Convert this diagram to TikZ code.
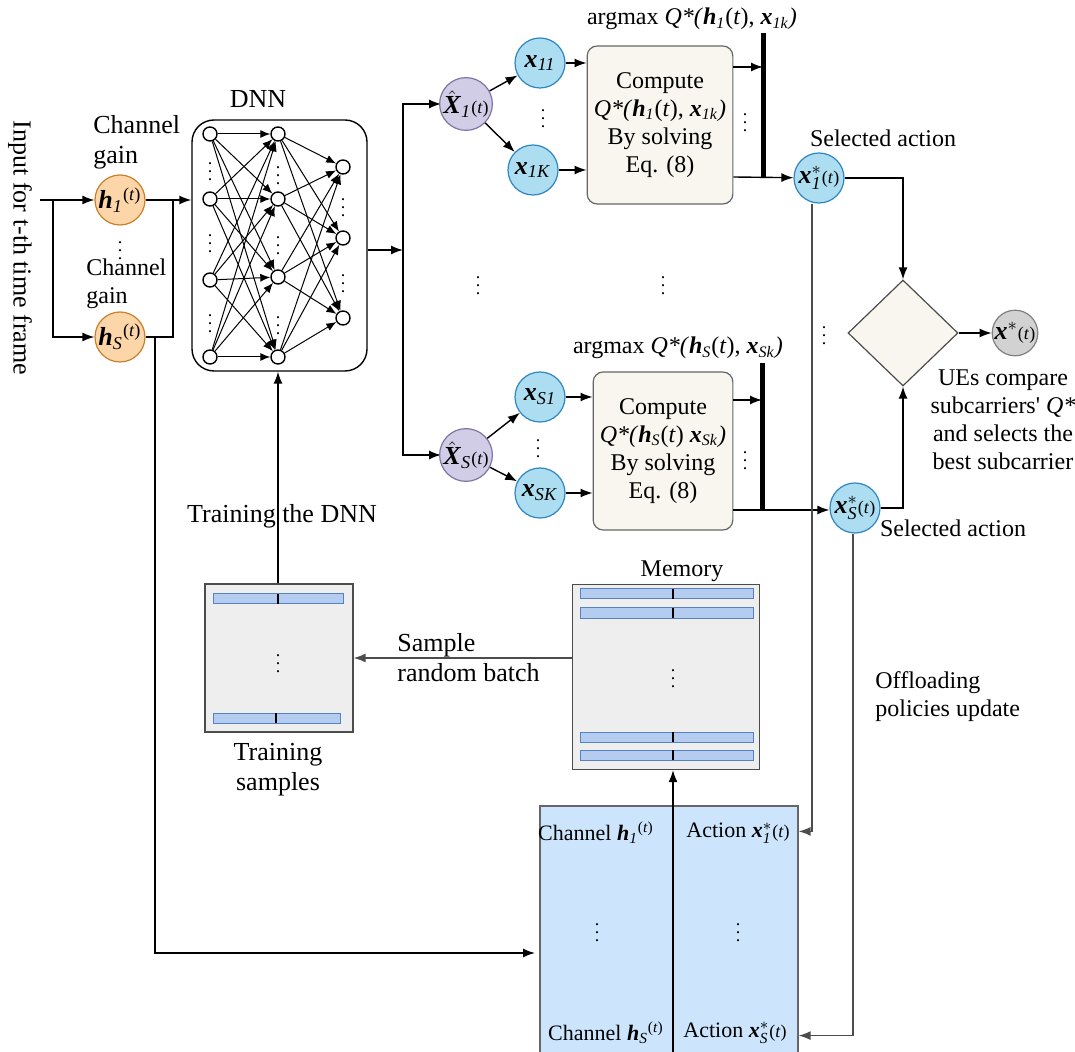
\documentclass[tikz,border=0pt]{standalone}
\usepackage{fontspec}
\setmainfont{Liberation Serif}
\usepackage{xcolor}
\usepackage{tikz}
\usetikzlibrary{shapes.geometric,arrows.meta}

\definecolor{bluefill}{RGB}{173,221,240}
\definecolor{blueline}{RGB}{46,134,193}
\definecolor{purfill}{RGB}{210,205,230}
\definecolor{purline}{RGB}{130,115,165}
\definecolor{orfill}{RGB}{252,213,168}
\definecolor{orline}{RGB}{200,128,42}
\definecolor{beige}{RGB}{248,246,238}
\definecolor{memfill}{RGB}{238,238,238}
\definecolor{slotfill}{RGB}{180,204,240}
\definecolor{slotline}{RGB}{85,130,195}
\definecolor{replayfill}{RGB}{204,229,252}
\definecolor{outfill}{RGB}{210,210,210}

\newcommand{\bi}[1]{\textbf{\textit{#1}}}
\newcommand{\tsm}{{\fontsize{9}{9}\selectfont(\textit{t})}}

\tikzset{
  circ/.style={circle, minimum size=25pt, inner sep=0pt, line width=0.6pt, font=\fontsize{13}{15}\selectfont},
  actnode/.style={circ, draw=blueline, fill=bluefill},
  hnode/.style={circ, draw=orline, fill=orfill},
  xhat/.style={circ, draw=purline, fill=purfill},
  neuron/.style={circle, draw, fill=white, minimum size=7pt, inner sep=0pt},
  compbox/.style={draw=black!60, fill=beige, rounded corners=5pt, line width=0.6pt, align=center},
  membox/.style={draw=black!70, fill=memfill, line width=0.6pt},
  slot/.style={draw=slotline, fill=slotfill, line width=0.5pt},
  vdot/.style={font=\fontsize{9}{9}\selectfont, inner sep=0pt},
}

\begin{document}
\begin{tikzpicture}[x=0.5pt, y=-0.5pt, >={Latex[length=6pt,width=4.5pt]},
  line width=0.7pt, font=\fontsize{12}{14}\selectfont]
\useasboundingbox (0,0) rectangle (1075,1052);

% Input
\node[rotate=-90, font=\fontsize{13}{15}\selectfont] (inlabel) at (20,248) {Input for t-th time frame};
\node[hnode] (h1) at (120,200) {\bi{h}\textsubscript{\textit{1}}\textsuperscript{(\textit{t})}};
\node[hnode] (hS) at (120,337) {\bi{h}\textsubscript{\textit{S}}\textsuperscript{(\textit{t})}};
\node[anchor=west, align=left, font=\fontsize{13}{15}\selectfont] (g1) at (86,142) {Channel\\gain};
\node[anchor=west, align=left, font=\fontsize{12}{14}\selectfont] (g2) at (79,284) {Channel\\gain};
\node[vdot] (d0) at (120,245) {$\vdots$};
\coordinate (in) at (40,200);
\coordinate (split) at (53,200);
\coordinate (join) at (173,200);
\coordinate (tap) at (155,953);
\draw[->] (in) -- (h1);
\draw[->] (split) |- (hS);

% DNN
\node[draw, rounded corners=11pt, minimum width=87.5pt, minimum height=125.5pt] (dnn) at (279.5,245.5) {};
\node[font=\fontsize{13}{15}\selectfont] (dnnlabel) at (258,99) {DNN};
\draw[->] (h1.east) -- (h1.east -| dnn.west);
\draw (hS.east) -| (join);
\draw[->] (hS.east) -| (tap) -- (535,953);

\foreach \i/\y in {1/134,2/199,3/280,4/357} \node[neuron] (a\i) at (210,\y) {};
\foreach \i/\y in {1/134,2/199,3/277,4/357} \node[neuron] (b\i) at (278,\y) {};
\foreach \i/\y in {1/167,2/238,3/318} \node[neuron] (c\i) at (343,\y) {};
\foreach \i in {1,...,4} \foreach \j in {1,...,4}
  \draw[line width=0.5pt, -{Latex[length=5pt,width=4pt]}] (a\i) -- (b\j);
\foreach \i in {1,...,4} \foreach \j in {1,...,3}
  \draw[line width=0.5pt, -{Latex[length=5pt,width=4pt]}] (b\i) -- (c\j);
\foreach \x/\y in {210/166,210/238,210/318,278/170,278/240,278/320,343/202,343/278}
  \node[vdot] at (\x,\y) {$\vdots$};

% Bus to the subcarriers
\coordinate (bus) at (403,250);
\draw[->] (dnn.east |- bus) -- (bus);
\draw[->] (bus) |- (441,104);
\draw[->] (bus) |- (441,455);
\node[xhat] (X1) at (466,104) {$\hat{\mbox{\bi{X}}}_{\mathit{1}}$\tsm};
\node[xhat] (XS) at (466,455) {$\hat{\mbox{\bi{X}}}_{\mathit{S}}$\tsm};

% Subcarrier 1
\node[actnode] (x11) at (540,63) {\bi{x}\textsubscript{\textit{11}}};
\node[actnode] (x1K) at (533,170) {\bi{x}\textsubscript{\textit{1K}}};
\node[vdot] at (543,113) {$\vdots$};
\draw[->] (X1) -- (x11);
\draw[->] (X1) -- (x1K);
\node[compbox, minimum width=67pt, minimum height=79pt] (c1) at (660,125)
  {Compute\\\textit{Q*(}\bi{h}\textsubscript{\textit{1}}(\textit{t}), \bi{x}\textsubscript{\textit{1k}}\textit{)}\\By solving\\Eq. (8)};
\draw[->] (x11) -- (x11 -| c1.west);
\draw[->] (x1K) -- (x1K -| c1.west);
\node (am1) at (692,19) {argmax \textit{Q*(}\bi{h}\textsubscript{\textit{1}}(\textit{t}), \bi{x}\textsubscript{\textit{1k}}\textit{)}};
\coordinate (bar1a) at (763,33);
\coordinate (bar1b) at (763,177);
\draw[line width=2.5pt] (bar1a) -- (bar1b);
\node[vdot] at (745,117) {$\vdots$};
\node[actnode] (s1) at (819,178) {$\bi{x}^{*}_{\mathit{1}}$\tsm};
\node (sel1) at (883,138) {Selected action};
\draw[->] (c1.east |- 0,67) -- (bar1a |- 0,67);
\draw[->] (c1.east |- bar1b) -- (s1);

% Subcarrier S
\node[actnode] (xS1) at (540,397) {\bi{x}\textsubscript{\textit{S1}}};
\node[actnode] (xSK) at (540,493) {\bi{x}\textsubscript{\textit{SK}}};
\node[vdot] at (538,443) {$\vdots$};
\draw[->] (XS) -- (xS1);
\draw[->] (XS) -- (xSK);
\node[compbox, minimum width=65pt, minimum height=79pt] (cS) at (663,451)
  {Compute\\\textit{Q*(}\bi{h}\textsubscript{\textit{S}}(\textit{t}) \bi{x}\textsubscript{\textit{Sk}}\textit{)}\\By solving\\Eq. (8)};
\draw[->] (xS1) -- (xS1 -| cS.west);
\draw[->] (xSK) -- (xSK -| cS.west);
\node (amS) at (678,348) {argmax \textit{Q*(}\bi{h}\textsubscript{\textit{S}}(\textit{t}), \bi{x}\textsubscript{\textit{Sk}}\textit{)}};
\coordinate (bar2a) at (762,363);
\coordinate (bar2b) at (762,510);
\draw[line width=2.5pt] (bar2a) -- (bar2b);
\node[vdot] at (745,455) {$\vdots$};
\node[actnode] (sS) at (855,508) {$\bi{x}^{*}_{\mathit{S}}$\tsm};
\node (selS) at (953,528) {Selected action};
\draw[->] (cS.east |- 0,400) -- (bar2a |- 0,400);
\draw[->] (cS.east |- bar2b) -- (sS.west |- bar2b);

\node[vdot] at (478,280) {$\vdots$};
\node[vdot] at (663,280) {$\vdots$};
\node[vdot] at (824,330) {$\vdots$};

% Decision
\node[diamond, draw=black!70, fill=beige, line width=0.6pt, minimum width=55pt, minimum height=53pt, inner sep=0pt] (dec) at (903,333) {};
\node[circ, draw=black!50, fill=outfill, minimum size=22pt] (xs) at (1015,333) {$\bi{x}^{*}$\tsm};
\draw[->] (s1.east) -| (dec.north);
\draw[->] (sS.east) -| (dec.south);
\draw[->] (dec.east) -- (xs);
\node[align=center] (cmp) at (1003,420) {UEs compare\\subcarriers\textquotesingle{} \textit{Q*}\\and selects the\\best subcarrier};

% Replay memory
\node[draw=black!60, fill=replayfill, line width=0.6pt, minimum width=129pt, minimum height=124pt] (replay) at (669,930) {};
\coordinate (div) at (673,1052);
\node[font=\fontsize{11}{13}\selectfont] (ch1) at (596,833) {Channel \bi{h}\textsubscript{\textit{1}}\textsuperscript{(\textit{t})}};
\node[font=\fontsize{11}{13}\selectfont] (ac1) at (738,833) {Action $\bi{x}^{*}_{\mathit{1}}$\tsm};
\node[font=\fontsize{11}{13}\selectfont] (chS) at (606,1033) {Channel \bi{h}\textsubscript{\textit{S}}\textsuperscript{(\textit{t})}};
\node[font=\fontsize{11}{13}\selectfont] (acS) at (735,1033) {Action $\bi{x}^{*}_{\mathit{S}}$\tsm};
\node[vdot] at (597,927) {$\vdots$};
\node[vdot] at (738,927) {$\vdots$};
\draw[black!70, ->] ([xshift=-3.5pt]s1.south) |- ([yshift=-13pt]replay.north east);
\draw[black!70, ->] ([xshift=-1pt]sS.south) |- ([yshift=9.5pt]replay.south east);
\node[anchor=west, align=left] (off) at (868,697) {Offloading\\policies update};

\node[membox, minimum width=93.5pt, minimum height=92.5pt] (mem) at (666,677) {};
\node (memlabel) at (682,571) {Memory};
\foreach \y in {594,613,737,755} {
  \draw[slot] (580,\y-5) rectangle (753,\y+5);
  \draw[line width=0.6pt] (673,\y-5) -- (673,\y+5);
}
\node[vdot] at (673,673) {$\vdots$};
\draw[->] (div) -- (div |- mem.south);

% Training samples
\node[membox, minimum width=74pt, minimum height=74pt] (train) at (279,658) {};
\draw[slot] (213,594) rectangle (343,604);
\draw[line width=0.6pt] (278,594) -- (278,604);
\draw[slot] (213,713) rectangle (340,723);
\draw[line width=0.6pt] (276,713) -- (276,723);
\node[vdot] at (278,658) {$\vdots$};
\node[align=center, font=\fontsize{13}{15}\selectfont] (trlabel) at (278,770) {Training\\samples};
\draw[black!70, ->] (mem.west |- 0,658) -- (train.east |- 0,658);
\node[anchor=west, align=left, font=\fontsize{13}{15}\selectfont] (sample) at (390,658) {Sample\\random batch};
\draw[->] (train.north -| 278,0) -- (dnn.south -| 278,0);
\node[font=\fontsize{13}{15}\selectfont] (trdnn) at (282,516) {Training the DNN};

\end{tikzpicture}
\end{document}
